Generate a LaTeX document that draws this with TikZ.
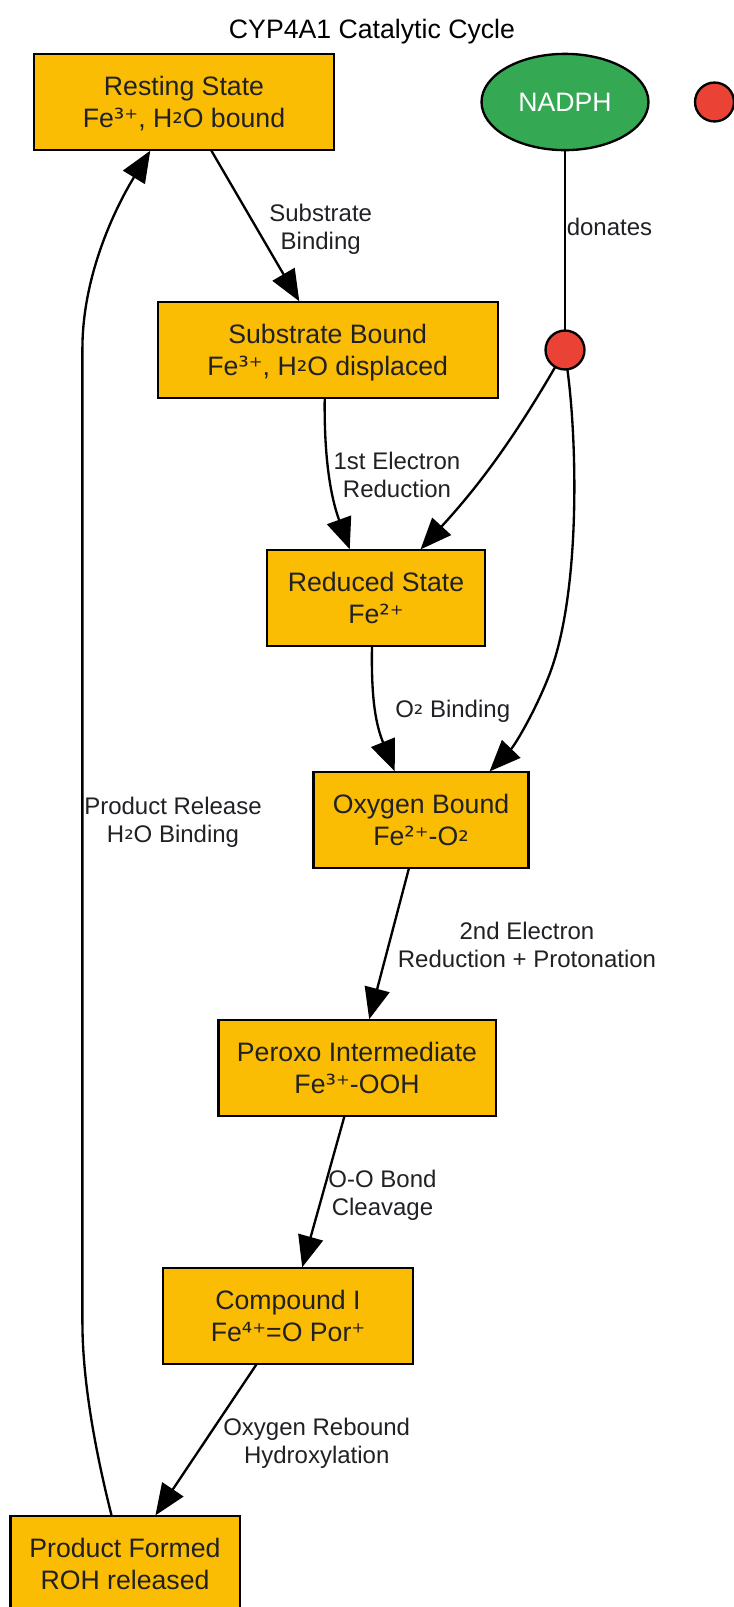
\documentclass[tikz,border=0pt]{standalone}
\usepackage{fontspec}
\setmainfont{Liberation Sans}
\newfontfamily\smallglyphs[Scale=0.98]{DejaVu Sans}
\newcommand{\gl}[1]{{\smallglyphs #1}}
\newcommand{\gs}[1]{\raisebox{0.12em}{\smallglyphs #1}}
\newcommand{\twolines}[2]{\rule{0pt}{18pt}#1\\#2\rule[-4.5pt]{0pt}{4.5pt}}
\usetikzlibrary{arrows.meta,calc,shapes.geometric}
\definecolor{amberbox}{HTML}{FBBC04}
\definecolor{greenell}{HTML}{34A853}
\definecolor{reddot}{HTML}{EA4335}
\definecolor{inktext}{HTML}{202124}
\tikzset{
  statebox/.style={draw=black,line width=1.75pt,fill=amberbox,text=inktext,inner sep=0pt,outer sep=0pt,
    minimum height=72pt,align=center,font=\fontsize{20}{24}\selectfont},
  elabel/.style={text=inktext,inner sep=0pt,align=center,font=\fontsize{18}{21}\selectfont},
  flow/.style={draw=black,line width=1.75pt,shorten >=0.6pt,-{Triangle[length=23.5pt,width=19pt]}},
  plainlink/.style={draw=black,line width=1.75pt},
  dotnode/.style={circle,draw=black,line width=1.75pt,fill=reddot,inner sep=0pt,outer sep=0pt,minimum size=29.2pt}
}
\begin{document}
\begin{tikzpicture}[x=0.75pt,y=-0.75pt]
\clip (0,0) rectangle (734,1607);
\node[text=black,inner sep=0pt,font=\fontsize{20}{24}\selectfont] (title) at (372,32) {CYP4A1 Catalytic Cycle};
\node[statebox,minimum width=224.6pt] (res) at (184,102) {\twolines{Resting State}{Fe\gl{³⁺}, H\gs{₂}O bound}};
\node[statebox,minimum width=255pt] (sub) at (327.7,350) {\twolines{Substrate Bound}{Fe\gl{³⁺}, H\gs{₂}O displaced}};
\node[statebox,minimum width=163.5pt] (red) at (376,598) {\twolines{Reduced State}{Fe\gl{²⁺}}};
\node[statebox,minimum width=161.3pt] (oxy) at (421,820) {\twolines{Oxygen Bound}{Fe\gl{²⁺}-O\gs{₂}}};
\node[statebox,minimum width=208pt] (per) at (357,1068) {\twolines{Peroxo Intermediate}{Fe\gl{³⁺}-OOH}};
\node[statebox,minimum width=187.5pt] (cmp) at (288,1316) {\twolines{Compound I}{Fe\gl{⁴⁺}=O Por\gl{⁺}}};
\node[statebox,minimum width=172pt] (prd) at (125,1564) {\twolines{Product Formed}{ROH released}};
\node[ellipse,draw=black,line width=1.75pt,fill=greenell,text=white,inner sep=0pt,outer sep=0pt,
  minimum width=125.2pt,minimum height=72.2pt,font=\fontsize{20}{24}\selectfont] (nadph) at (565,102) {NADPH};
\node[dotnode] (dot) at (565,350) {};
\node[dotnode] (dotb) at (714.5,102) {};

\draw[flow] ($(res.south)+(27,0)$) -- ($(sub.north)+(-28,0)$);
\draw[plainlink] (nadph) -- (dot);
\draw[flow] ($(sub.south)+(-3,0)$) .. controls (324,455) and (330,495) .. ($(red.north)+(-26,0)$);
\draw[flow] (dot.240) .. controls (510,445) and (475,490) .. ($(red.north)+(44,0)$);
\draw[flow] (dot.277) .. controls (577,440) and (581,590) .. (550,673) .. controls (536,710) and (515,745) .. ($(oxy.north)+(68,0)$);
\draw[flow] ($(red.south)+(-4,0)$) .. controls (371,700) and (376,725) .. ($(oxy.north)+(-26,0)$);
\draw[flow] ($(oxy.south)+(-12,0)$) -- ($(per.north)+(12,0)$);
\draw[flow] ($(per.south)+(-12.5,0)$) -- ($(cmp.north)+(14,0)$);
\draw[flow] ($(cmp.south)+(-31.3,0)$) -- ($(prd.north)+(30,0)$);
\draw[flow] ($(prd.north)+(-13.3,0)$) .. controls (95,1450) and (82.4,1380) .. (82.4,1322) -- (82.4,349) .. controls (82.4,270) and (120,200) .. ($(res.south)+(-33.3,0)$);

\node[elabel] (l1) at (320.7,229.5) {Substrate\\Binding};
\node[elabel] (l2) at (609.5,227) {donates};
\node[elabel] (l3) at (397,475) {1st Electron\\Reduction};
\node[elabel] (l4) at (452.7,711) {O\gs{₂} Binding};
\node[elabel] (l5) at (173,822) {Product Release\\H\gs{₂}O Binding};
\node[elabel] (l6) at (527,945) {2nd Electron\\Reduction + Protonation};
\node[elabel] (l7) at (382.5,1195.5) {O-O Bond\\Cleavage};
\node[elabel] (l8) at (316.7,1443) {Oxygen Rebound\\Hydroxylation};
\end{tikzpicture}
\end{document}
